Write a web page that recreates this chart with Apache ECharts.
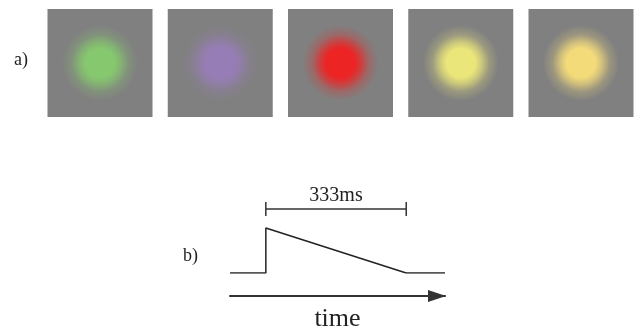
<!DOCTYPE html>
<html>
<head>
<meta charset="utf-8">
<script src="https://cdn.jsdelivr.net/npm/echarts@6/dist/echarts.min.js"></script>
<style>
  html, body { margin: 0; padding: 0; background: #fff; }
  #chart { width: 638px; height: 333px; }
</style>
</head>
<body>
<div id="chart"></div>
<script>
// a) stimulus colours, one panel each
const panelIndex = [0, 1, 2, 3, 4];
const dotColors = ["#86c86e", "#977db6", "#ec2424", "#ebe67a", "#f4db7a"];

// b) intensity envelope over time (ms)
const timeMs = [-85, 0, 0, 333, 425];
const intensity = [0, 0, 1, 0, 0];
const spanMs = [0, 333];
const spanLevel = 1.42;
const spanLabel = "333ms";

const serif = "Liberation Serif";

function fade(hex, a) {
  const r = parseInt(hex.slice(1, 3), 16);
  const g = parseInt(hex.slice(3, 5), 16);
  const b = parseInt(hex.slice(5, 7), 16);
  return "rgba(" + r + "," + g + "," + b + "," + a + ")";
}

const chart = echarts.init(document.getElementById("chart"));

const option = {
  animation: false,
  backgroundColor: "#fff",
  grid: [
    { left: 100, right: 57, top: 9, height: 108, outerBoundsMode: "none" },
    { left: 230, right: 193, top: 205.5, bottom: 60, outerBoundsMode: "none" },
  ],
  xAxis: [
    { gridIndex: 0, type: "value", min: 0, max: 4, show: false },
    {
      gridIndex: 1,
      type: "value",
      min: -85,
      max: 425,
      offset: 23,
      axisLine: {
        show: true,
        onZero: false,
        symbol: ["none", "triangle"],
        symbolSize: [12, 18],
        symbolOffset: [0, -8],
        lineStyle: { color: "#333", width: 2 },
      },
      axisTick: { show: false },
      axisLabel: { show: false },
      splitLine: { show: false },
      name: "time",
      nameLocation: "middle",
      nameGap: 10,
      nameTextStyle: { fontFamily: serif, fontSize: 26, color: "#222" },
    },
  ],
  yAxis: [
    { gridIndex: 0, type: "value", min: 0, max: 1, show: false },
    { gridIndex: 1, type: "value", min: 0, max: 1.5, show: false },
  ],
  graphic: [
    {
      type: "text",
      left: 14,
      top: 51,
      style: { text: "a)", font: "18px " + serif, fill: "#222" },
    },
    {
      type: "text",
      left: 183,
      top: 247,
      style: { text: "b)", font: "18px " + serif, fill: "#222" },
    },
  ],
  series: [
    {
      type: "scatter",
      xAxisIndex: 0,
      yAxisIndex: 0,
      symbol: "rect",
      symbolSize: [105, 108],
      itemStyle: { color: "#808080", opacity: 1 },
      data: panelIndex.map((i) => [i, 0.5]),
      z: 1,
    },
    {
      type: "scatter",
      xAxisIndex: 0,
      yAxisIndex: 0,
      symbolSize: 76,
      data: panelIndex.map((i) => ({
        value: [i, 0.5],
        itemStyle: {
          opacity: 1,
          color: {
            type: "radial",
            x: 0.5,
            y: 0.5,
            r: 0.5,
            colorStops: [
              { offset: 0, color: dotColors[i] },
              { offset: 0.38, color: dotColors[i] },
              { offset: 0.55, color: fade(dotColors[i], 0.7) },
              { offset: 0.75, color: fade(dotColors[i], 0.25) },
              { offset: 1, color: fade(dotColors[i], 0) },
            ],
          },
        },
      })),
      z: 2,
    },
    {
      type: "line",
      xAxisIndex: 1,
      yAxisIndex: 1,
      symbol: "none",
      lineStyle: { color: "#222", width: 1.5 },
      data: timeMs.map((t, i) => [t, intensity[i]]),
    },
    {
      type: "line",
      xAxisIndex: 1,
      yAxisIndex: 1,
      symbol: "rect",
      symbolSize: [1.5, 14],
      itemStyle: { color: "#333" },
      lineStyle: { color: "#333", width: 1.5 },
      data: spanMs.map((t) => [t, spanLevel]),
      markPoint: {
        symbol: "circle",
        symbolSize: 0,
        label: {
          show: true,
          formatter: spanLabel,
          position: "top",
          distance: 3,
          fontFamily: serif,
          fontSize: 20,
          color: "#222",
        },
        data: [{ coord: [(spanMs[0] + spanMs[1]) / 2, spanLevel] }],
      },
    },
  ],
};

chart.setOption(option);
</script>
</body>
</html>
